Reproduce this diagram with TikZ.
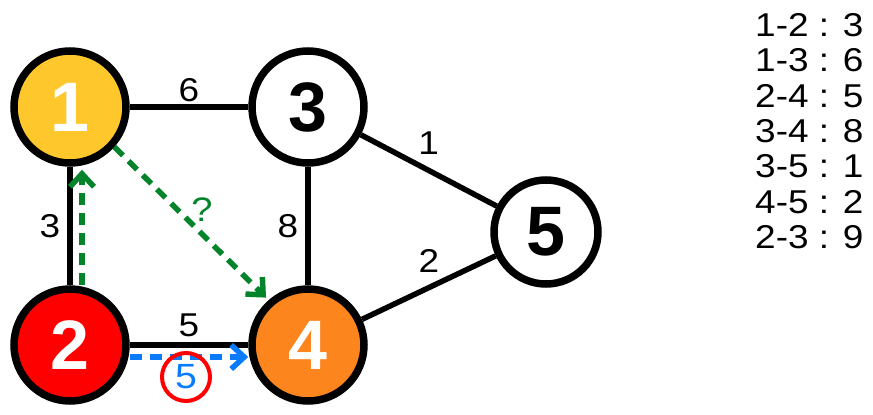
\documentclass[tikz,border=0pt]{standalone}
\usepackage{fontspec}
\setmainfont{Liberation Sans}
\newfontfamily\widesans[FakeStretch=1.12]{Liberation Sans}
\usetikzlibrary{arrows.meta, positioning}
\definecolor{gold}{HTML}{FEC82D}
\definecolor{tangerine}{HTML}{FD851E}
\definecolor{leaf}{HTML}{03832A}
\definecolor{sky}{HTML}{0B7BFE}

\begin{document}
\begin{tikzpicture}[x=1pt,y=-1pt,
  vertex/.style={circle, draw, line width=7.5pt, minimum size=112pt, inner sep=0pt,
    font=\fontsize{70}{70}\selectfont\bfseries},
  edge/.style={line width=5.5pt},
  wlabel/.style={font=\fontsize{33}{33}\selectfont\widesans, inner sep=2pt},
  hint/.style={line width=5.5pt, dash pattern=on 12pt off 8pt,
    -{Straight Barb[length=13pt,width=24pt]}}]
\useasboundingbox (0,0) rectangle (873,415);
% vertices
\node[vertex, fill=gold, text=white] (n1) at (70,107) {1};
\node[vertex, fill=red, text=white] (n2) at (70,345) {2};
\node[vertex, fill=white] (n3) at (308,107) {3};
\node[vertex, fill=tangerine, text=white] (n4) at (308,345) {4};
\node[vertex, fill=white, minimum size=104pt] (n5) at (546,232) {5};
% weighted edges
\draw[edge] (n1) -- node[wlabel, above] {6} (n3);
\draw[edge] (n1) -- node[wlabel, left=5pt] {3} (n2);
\draw[edge] (n3) -- node[wlabel, left=5pt] {8} (n4);
\draw[edge] (n2) -- node[wlabel, above=3pt] {5} (n4);
\draw[edge] (n3) -- node[wlabel, above=11pt] {1} (n5);
\draw[edge] (n4) -- node[wlabel, above=10pt] {2} (n5);
% hints
\draw[hint, leaf] ([xshift=12pt]n2.north) -- ([xshift=12pt, yshift=-3pt]n1.south);
\draw[hint, leaf] (n1.-42) -- node[wlabel, text=leaf, font=\fontsize{34}{34}\selectfont\widesans,
  above right=-5pt] {?} ([shift={(-2pt,3pt)}]n4.132);
\draw[hint, sky] ([yshift=-12pt]n2.east) -- ([yshift=-12pt]n4.west);
\node[circle, draw=red, line width=4pt, minimum size=48pt, inner sep=0pt, text=sky,
  font=\fontsize{35}{35}\selectfont\widesans] (pick) at (186,377) {5};
% weight list
\foreach \e [count=\i] in {1-2 : 3, 1-3 : 6, 2-4 : 5, 3-4 : 8, 3-5 : 1, 4-5 : 2, 2-3 : 9}{
  \node[wlabel, anchor=west] (w\i) at (753,{25+35.4*(\i-1)}) {\e};
}
\end{tikzpicture}
\end{document}
